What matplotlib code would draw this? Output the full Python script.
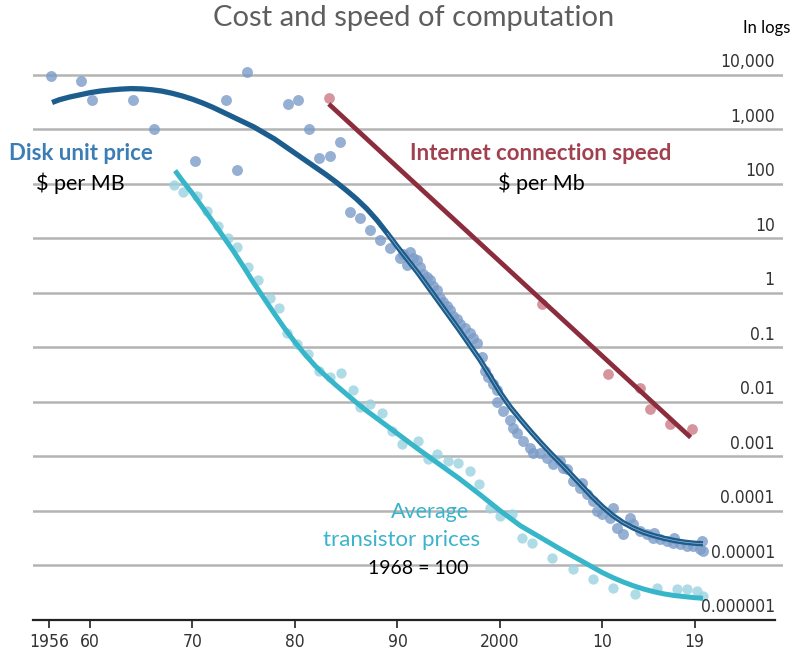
import numpy as np
import matplotlib
matplotlib.use('Agg')
import matplotlib.pyplot as plt
from matplotlib import font_manager

plt.rcParams['font.family'] = ['Lato', 'DejaVu Sans']

#-----------------------------------------------------------------------
# data (years, values in $ / index)
disk_years = [1956.2, 1959.1, 1960.2, 1964.2, 1966.2, 1970.2, 1973.3, 1974.3, 1975.3,
              1979.3, 1980.3, 1981.4, 1982.3, 1983.4, 1984.4, 1985.4, 1986.3, 1987.3,
              1988.3, 1989.3, 1990.2, 1990.5, 1990.9, 1991.2, 1991.5, 1991.9, 1992.2,
              1992.5, 1992.9, 1993.2, 1993.5, 1993.9, 1994.1, 1994.4, 1994.8, 1995.1,
              1995.4, 1995.8, 1996.1, 1996.6, 1997.1, 1997.4, 1997.8, 1998.2, 1998.5,
              1998.8, 1999.3, 1999.7, 1999.7, 2000.3, 2001.0, 2001.3, 2001.7, 2002.2,
              2002.9, 2003.2, 2003.9, 2004.6, 2005.2, 2005.9, 2006.1, 2006.5, 2007.1,
              2007.8, 2008.0, 2008.5, 2009.1, 2009.5, 2010.0, 2010.7, 2011.0, 2011.4,
              2012.0, 2012.7, 2013.0, 2013.7, 2014.3, 2014.9, 2015.0, 2015.6, 2016.3,
              2016.9, 2017.0, 2017.6, 2018.2, 2018.8, 2019.5, 2019.7, 2019.8]
disk_prices = [9.3e3, 7.6e3, 3.4e3, 3.4e3, 1.0e3, 2.6e2, 3.4e3, 1.8e2, 1.1e4,
               2.9e3, 3.4e3, 1.0e3, 3.0e2, 3.2e2, 5.8e2, 30, 23, 14,
               9.1, 6.5, 4.4, 5.2, 3.2, 5.5, 4.4, 3.9, 2.9,
               2.2, 1.9, 1.7, 1.35, 1.1, 0.81, 0.66, 0.58, 0.47,
               0.38, 0.33, 0.27, 0.22, 0.18, 0.15, 0.12, 0.065, 0.037,
               0.028, 0.021, 0.016, 0.010, 6.8e-3, 4.5e-3, 3.3e-3, 2.6e-3, 1.9e-3,
               1.4e-3, 1.15e-3, 1.15e-3, 9.3e-4, 7.2e-4, 8.1e-4, 6.0e-4, 5.8e-4, 3.5e-4,
               2.6e-4, 3.2e-4, 2.0e-4, 1.5e-4, 9.8e-5, 8.7e-5, 7.2e-5, 1.1e-4, 4.8e-5,
               3.7e-5, 7.2e-5, 5.6e-5, 4.2e-5, 3.7e-5, 3.2e-5, 3.8e-5, 3.0e-5, 2.8e-5,
               2.5e-5, 3.2e-5, 2.45e-5, 2.2e-5, 2.2e-5, 2.0e-5, 2.8e-5, 1.8e-5]

# trend lines, read as log10 of the value
disk_trend_years = [1956.3, 1957, 1958, 1959, 1960, 1961, 1962, 1963, 1964, 1965, 1966,
                    1967, 1968, 1969, 1970, 1971, 1972, 1973, 1974, 1975, 1976, 1977,
                    1978, 1979, 1980, 1981, 1982, 1983, 1984, 1985, 1986, 1987, 1988,
                    1989, 1990, 1991, 1992, 1993, 1994, 1995, 1996, 1997, 1998, 1999,
                    2000, 2001, 2002, 2003, 2004, 2005, 2006, 2007, 2008, 2009, 2010,
                    2011, 2012, 2013, 2014, 2015, 2016, 2017, 2018, 2019, 2019.8]
disk_trend_log = [3.49, 3.54, 3.59, 3.63, 3.67, 3.70, 3.72, 3.735, 3.745, 3.74, 3.725,
                  3.70, 3.66, 3.61, 3.55, 3.48, 3.40, 3.31, 3.22, 3.13, 3.04, 2.93,
                  2.82, 2.69, 2.56, 2.43, 2.30, 2.17, 2.03, 1.88, 1.72, 1.54, 1.33,
                  1.09, 0.84, 0.60, 0.36, 0.10, -0.16, -0.42, -0.68, -0.95, -1.22, -1.52,
                  -1.83, -2.10, -2.33, -2.55, -2.76, -2.96, -3.15, -3.35, -3.55, -3.75, -3.93,
                  -4.09, -4.22, -4.32, -4.40, -4.46, -4.51, -4.55, -4.58, -4.60, -4.61]

trans_years = [1968.2, 1969.1, 1970.4, 1971.4, 1972.5, 1973.5, 1974.3, 1975.4, 1976.4,
               1977.6, 1978.4, 1979.2, 1980.2, 1981.3, 1982.3, 1983.4, 1984.5, 1985.7,
               1986.3, 1987.3, 1988.5, 1989.5, 1990.4, 1992.0, 1993.0, 1993.9, 1994.9,
               1995.9, 1997.1, 1998.0, 1999.0, 2000.0, 2001.2, 2002.1, 2003.1, 2005.1,
               2007.1, 2009.1, 2011.0, 2013.2, 2015.3, 2017.3, 2018.2, 2019.2, 2019.8]
trans_prices = [93, 69, 60, 32, 17, 10, 6.8, 2.9, 1.7,
                0.81, 0.52, 0.18, 0.115, 0.076, 0.037, 0.028, 0.034, 0.016,
                7.8e-3, 9.1e-3, 6.2e-3, 2.9e-3, 1.7e-3, 1.9e-3, 8.9e-4, 1.1e-3, 8.1e-4,
                7.4e-4, 5.4e-4, 3.1e-4, 1.1e-4, 7.9e-5, 8.7e-5, 3.2e-5, 2.5e-5, 1.35e-5,
                8.5e-6, 5.5e-6, 3.8e-6, 2.95e-6, 3.8e-6, 3.6e-6, 3.6e-6, 3.3e-6, 2.7e-6]

trans_trend_years = [1968.3, 1969, 1970, 1971, 1972, 1973, 1974, 1975, 1976, 1977, 1978,
                     1979, 1980, 1981, 1982, 1983, 1984, 1985, 1986, 1987, 1988, 1990,
                     1992, 1994, 1996, 1998, 2000, 2002, 2004, 2006, 2008, 2010, 2011,
                     2012, 2013, 2014, 2015, 2016, 2017, 2018, 2019, 2019.8]
trans_trend_log = [2.24, 2.06, 1.82, 1.56, 1.30, 1.03, 0.76, 0.47, 0.17, -0.11, -0.39,
                   -0.66, -0.91, -1.14, -1.35, -1.53, -1.70, -1.86, -2.02, -2.17, -2.31, -2.59,
                   -2.87, -3.14, -3.41, -3.70, -4.00, -4.28, -4.50, -4.72, -4.93, -5.14, -5.23,
                   -5.31, -5.38, -5.44, -5.49, -5.53, -5.56, -5.58, -5.60, -5.61]

net_years = [1983.3, 2004.1, 2010.5, 2013.7, 2014.6, 2016.6, 2018.7]
net_prices = [3.7e3, 0.63, 0.032, 0.018, 7.4e-3, 3.9e-3, 3.2e-3]
net_trend_years = [1983.3, 2018.6]
net_trend = [2.9e3, 2.2e-3]

decades = [1e4, 1e3, 1e2, 1e1, 1, 0.1, 0.01, 0.001, 0.0001, 0.00001, 0.000001]
decade_labels = ['10,000', '1,000', '100', '10', '1', '0.1', '0.01', '0.001',
                 '0.0001', '0.00001', '0.000001']
xticks = [1956, 1960, 1970, 1980, 1990, 2000, 2010, 2019]
xtick_labels = ['1956', '60', '70', '80', '90', '2000', '10', '19']

#-----------------------------------------------------------------------
narrow = font_manager.FontProperties(family='DejaVu Sans', stretch='condensed', size=12.5)

W, H = 792, 657
fig = plt.figure(figsize=(W / 100, H / 100), dpi=100)
ax = fig.add_axes([33 / W, 1 - 619.5 / H, 750 / W, 559.5 / H])
ax.set_yscale('log')
ax.set_xlim(1954.44, 2027.61)
ax.set_ylim(1e-6, 10 ** 4.27)

for v in decades[:-1]:
    ax.axhline(v, color='#b4b4b4', lw=1.8, zorder=0)
for v, lab in zip(decades, decade_labels):
    ax.annotate(lab, xy=(0.989, v), xycoords=('axes fraction', 'data'),
                xytext=(0, 2.5), textcoords='offset points', ha='right', va='bottom',
                fontproperties=narrow, color='#333333')

ax.scatter(disk_years, disk_prices, s=62, color='#7b9cc8', alpha=0.8, lw=0, zorder=2)
ax.scatter(trans_years, trans_prices, s=55, color='#9ad3df', alpha=0.8, lw=0, zorder=2)
ax.scatter(net_years, net_prices, s=60, color='#cc7a85', alpha=0.8, lw=0, zorder=2)

disk_trend = np.power(10.0, disk_trend_log)
trans_trend = np.power(10.0, trans_trend_log)
ax.plot(disk_trend_years, disk_trend, color='#1c5d8e', lw=3.8, solid_capstyle='butt', zorder=3)
ax.plot(disk_trend_years[33:], disk_trend[33:], color='white', lw=0.5, alpha=0.55, zorder=4)
ax.plot(trans_trend_years, trans_trend, color='#37b6ca', lw=3.6, solid_capstyle='butt', zorder=3)
ax.plot(net_trend_years, net_trend, color='#8c2d3e', lw=3.4, solid_capstyle='butt', zorder=3)

for s in ['top', 'left', 'right']:
    ax.spines[s].set_visible(False)
ax.spines['bottom'].set_color('#222222')
ax.spines['bottom'].set_linewidth(1.6)
ax.spines['bottom'].set_bounds(1954.44, 2026.8)
ax.set_yticks([])
ax.minorticks_off()
ax.set_xticks(xticks)
ax.set_xticklabels(xtick_labels, color='#333333')
for t in ax.get_xticklabels():
    t.set_fontproperties(narrow)
ax.tick_params(axis='x', length=6, width=1.2, color='#222222', pad=4)

#-----------------------------------------------------------------------
fig.text(414 / W, 1 - 18 / H, 'Cost and speed of computation', ha='center', va='center',
         fontsize=21, color='#5e5e5e')
fig.text(790 / W, 1 - 28 / H, 'In logs', ha='right', va='center', fontsize=12, color='black')

fig.text(81 / W, 1 - 153 / H, 'Disk unit price', ha='center', va='center',
         fontsize=16, fontweight='bold', color='#3b7db5')
fig.text(80 / W, 1 - 183 / H, '$ per MB', ha='center', va='center', fontsize=15.5, color='black')
fig.text(541 / W, 1 - 153 / H, 'Internet connection speed', ha='center', va='center',
         fontsize=16, fontweight='bold', color='#a1404e')
fig.text(541 / W, 1 - 183 / H, '$ per Mb', ha='center', va='center', fontsize=15.5, color='black')
fig.text(430 / W, 1 - 512 / H, 'Average', ha='center', va='center', fontsize=15.5, color='#3ab3cb')
fig.text(402 / W, 1 - 540 / H, 'transistor prices', ha='center', va='center',
         fontsize=16, color='#3ab3cb')
fig.text(418 / W, 1 - 568 / H, '1968 = 100', ha='center', va='center', fontsize=14, color='black')

plt.savefig('out.png', dpi=100)
